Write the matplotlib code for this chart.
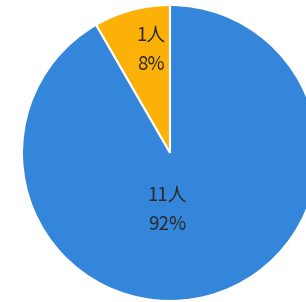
import matplotlib
matplotlib.use("Agg")
import matplotlib.pyplot as plt

plt.rcParams['font.family'] = ['Noto Sans CJK JP', 'DejaVu Sans']

categories = ["1人", "11人"]
counts = [1, 11]
percents = ["8%", "92%"]
colors = ["#FBB107", "#3486DA"]

fig = plt.figure(figsize=(3.06, 3.02), dpi=100)
W, H = 306, 302
cx, cy, r = 170, 153, 148
ax = fig.add_axes([(cx - r) / W, (H - cy - r) / H, 2 * r / W, 2 * r / H])
ax.pie(counts, colors=colors, startangle=90, counterclock=True,
       wedgeprops=dict(edgecolor="white", linewidth=1.5), radius=1.0)
ax.set_xlim(-1, 1)
ax.set_ylim(-1, 1)
ax.set_aspect("equal")
ax.axis("off")

label_pos = [(-0.13, 0.695), (-0.02, -0.385)]
for cat, pct, (x, y) in zip(categories, percents, label_pos):
    ax.text(x, y, f"{cat}\n{pct}", ha="center", va="center",
            fontsize=13.5, color="#2b2b2b", linespacing=1.5)

fig.savefig("out.png", dpi=100)
